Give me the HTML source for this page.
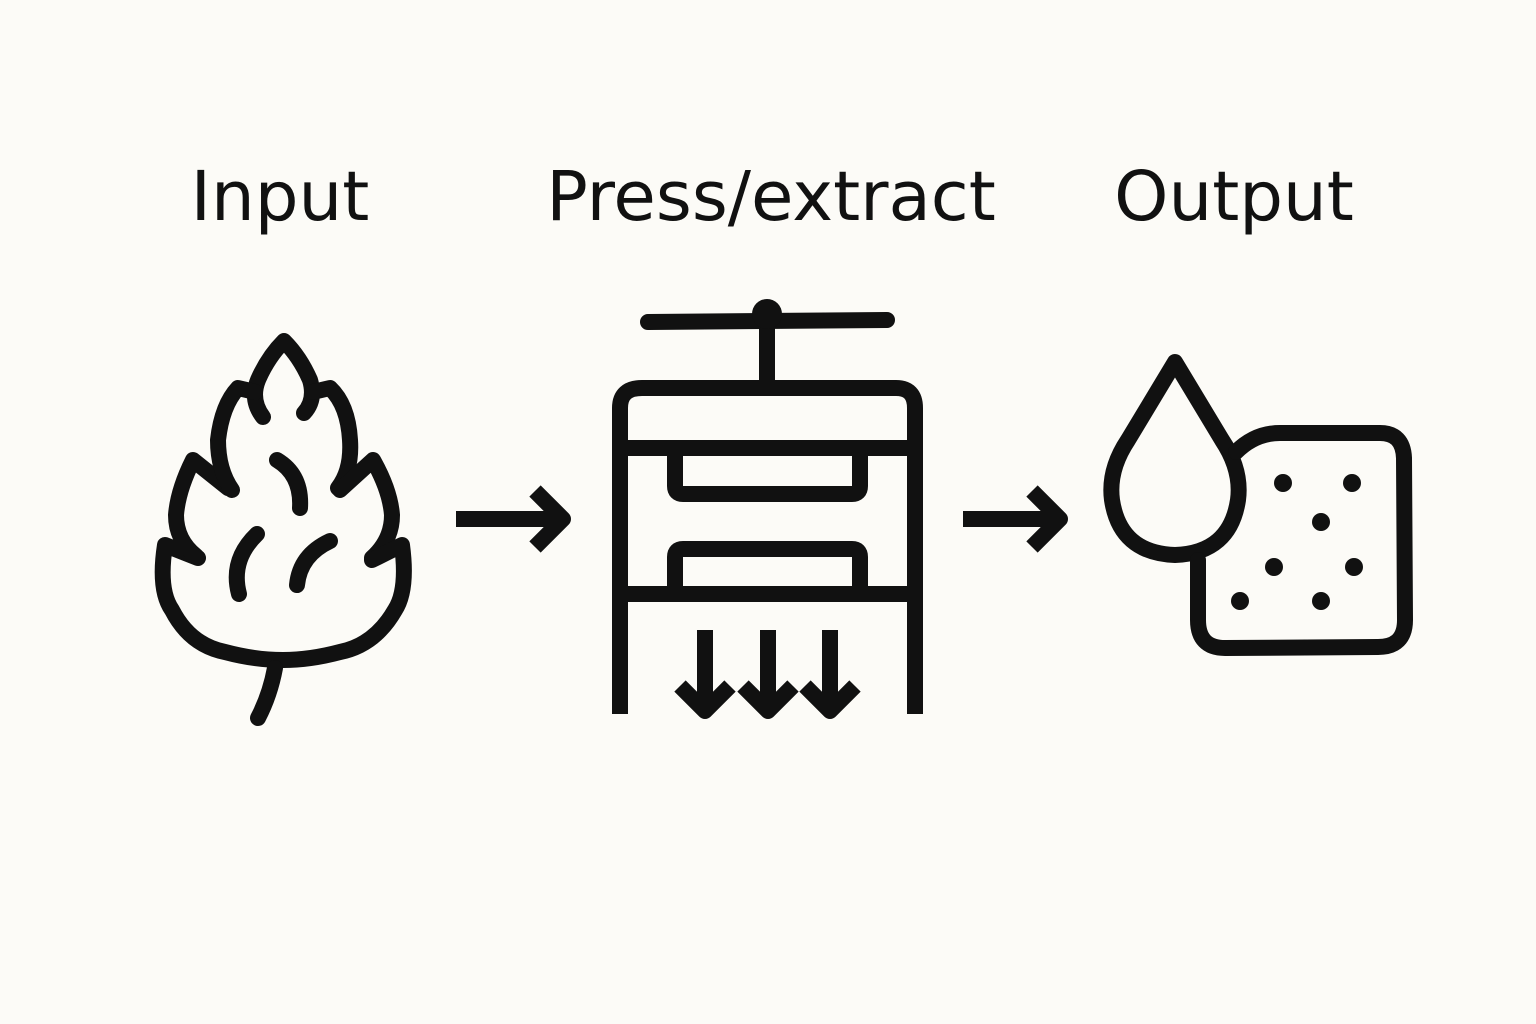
<!DOCTYPE html>
<html><head><meta charset="utf-8"><style>
html,body{margin:0;padding:0;background:#fcfbf7;}
svg{display:block}
</style></head><body>
<svg width="1536" height="1024" viewBox="0 0 1536 1024" xmlns="http://www.w3.org/2000/svg">
<rect width="1536" height="1024" fill="#fcfbf7"/>
<g font-family="DejaVu Sans, sans-serif" font-size="69" fill="#111" text-anchor="middle">
<text x="280" y="220">Input</text>
<text x="771" y="220">Press/extract</text>
<text x="1234" y="220">Output</text>
</g>
<g fill="none" stroke="#111" stroke-width="16" stroke-linecap="round" stroke-linejoin="round">
<!-- hop -->
<path d="M263,417 Q250,400 258,380 Q268,357 284,341 Q300,357 310,380 Q316,400 304,413"/>
<path d="M313,392 L330,388 Q348,405 350,440 Q352,470 338,488"/>
<path d="M340,490 L373,460 Q390,490 392,515 Q392,540 372,558"/>
<path d="M372,560 L402,545 Q408,590 395,610 Q375,645 340,652 Q310,660 283,660 Q255,660 225,652 Q190,645 172,610 Q158,590 165,545 L198,558"/>
<path d="M196,556 Q176,540 176,515 Q178,490 193,460 L228,488"/>
<path d="M232,490 Q218,470 218,440 Q222,405 238,388 L255,392"/>
<path d="M275,668 Q270,695 258,718"/>
<path d="M277,460 Q302,475 300,508"/>
<path d="M257,534 Q230,560 239,594"/>
<path d="M330,541 Q300,555 297,585"/>
<!-- arrows -->
<path d="M456,519 L563,519 M535,491 L563,519 L535,547" stroke-linecap="butt"/>
<path d="M963,519 L1060,519 M1032,491 L1060,519 L1032,547" stroke-linecap="butt"/>
<!-- press -->
<path d="M648,322 L887,320"/>
<path d="M767,320 L767,382" stroke-linecap="butt"/>
<path d="M620,714 L620,408 Q620,388 642,388 L896,388 Q915,388 915,408 L915,714" stroke-linecap="butt"/>
<path d="M620,448 L915,448 M620,594 L915,594" stroke-linecap="butt"/>
<path d="M675,448 L675,486 Q675,494 683,494 L852,494 Q860,494 860,486 L860,448" stroke-linecap="butt"/>
<path d="M675,594 L675,557 Q675,549 683,549 L852,549 Q860,549 860,557 L860,594" stroke-linecap="butt"/>
<g stroke-linecap="butt">
<path d="M705,630 L705,710 M680,686 L705,711 L730,686"/>
<path d="M768,630 L768,710 M743,686 L768,711 L793,686"/>
<path d="M830,630 L830,710 M805,686 L830,711 L855,686"/>
</g>
<!-- output -->
<path d="M1175,362 L1128,440 Q1108,470 1112,500 Q1120,553 1175,555 Q1230,553 1238,500 Q1242,470 1222,440 Z"/>
<path d="M1236,452 Q1255,433 1280,433 L1380,433 Q1403,433 1404,458 L1405,620 Q1405,647 1378,647 L1225,648 Q1198,648 1198,620 L1198,560"/>
</g>
<g fill="#111">
<circle cx="767" cy="314" r="15"/>
<circle cx="1283" cy="483" r="9"/><circle cx="1352" cy="483" r="9"/>
<circle cx="1321" cy="522" r="9"/><circle cx="1274" cy="567" r="9"/>
<circle cx="1354" cy="567" r="9"/><circle cx="1240" cy="601" r="9"/>
<circle cx="1321" cy="601" r="9"/>
</g>
</svg>
</body></html>
